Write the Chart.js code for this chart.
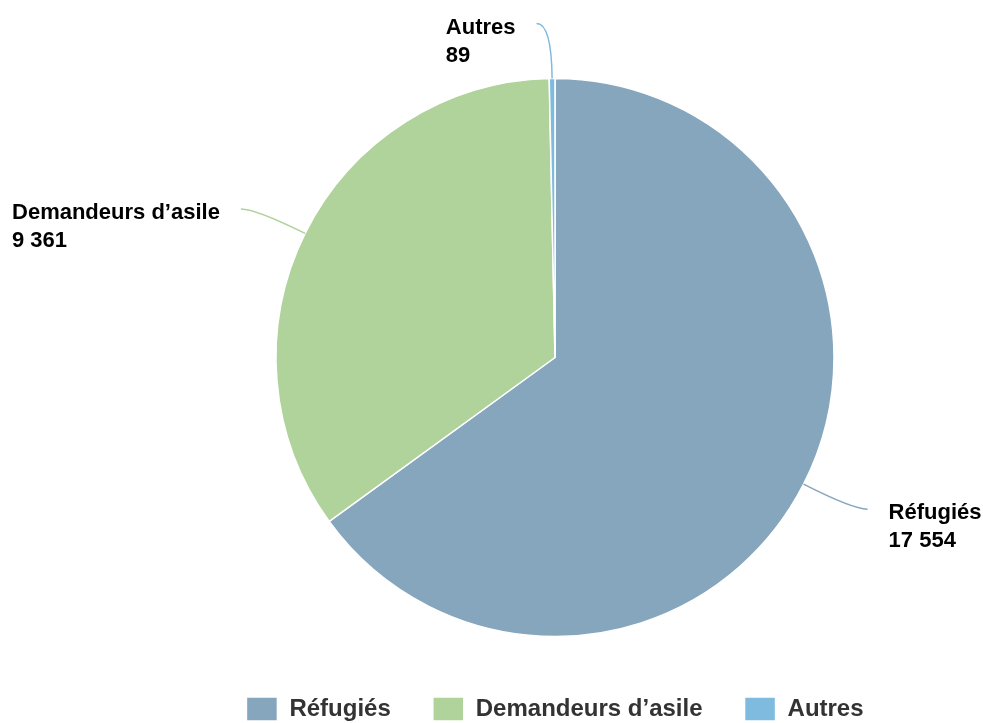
<!DOCTYPE html>
<html>
<head>
<meta charset="utf-8">
<script src="https://cdn.jsdelivr.net/npm/chart.js@4.4.0/dist/chart.umd.min.js"></script>
<style>
  html, body { margin: 0; padding: 0; background: #fff; }
  #box { width: 983px; height: 723px; }
</style>
</head>
<body>
<div id="box"><canvas id="grafico"></canvas></div>
<script>
// données
const categories = ['Réfugiés', 'Demandeurs d’asile', 'Autres'];
const valeurs = [17554, 9361, 89];
const couleurs = ['#85a6bd', '#b0d29b', '#7fbadf'];

function formatNombre(n) { // séparateur de milliers en espace
  return n.toString().replace(/\B(?=(\d{3})+(?!\d))/g, ' ');
}

// étiquettes + connecteurs courbes
const etiquettesPlugin = {
  id: 'etiquettes',
  afterDatasetsDraw(chart) {
    const ctx = chart.ctx;
    const meta = chart.getDatasetMeta(0);
    ctx.save();
    ctx.font = 'bold 22px "Liberation Sans", Arial, sans-serif';
    ctx.textBaseline = 'middle';
    ctx.textAlign = 'left';
    meta.data.forEach((arc, i) => {
      const p = arc.getProps(['x', 'y', 'startAngle', 'endAngle', 'outerRadius'], true);
      const mid = (p.startAngle + p.endAngle) / 2;
      const cos = Math.cos(mid), sin = Math.sin(mid);
      const dir = cos >= 0 ? 1 : -1;
      const sx = p.x + p.outerRadius * cos, sy = p.y + p.outerRadius * sin;
      const bx = p.x + (p.outerRadius + 55) * cos;
      const by = Math.max(p.y + (p.outerRadius + 55) * sin, 17);
      const ex = bx + dir * 15, ey = by;

      ctx.strokeStyle = couleurs[i];
      ctx.lineWidth = 1.5;
      ctx.beginPath();
      ctx.moveTo(sx, sy);
      ctx.quadraticCurveTo(bx, by, ex, ey);
      ctx.stroke();

      // bloc de texte aligné à gauche, placé du bon côté du connecteur
      const l1 = categories[i], l2 = formatNombre(valeurs[i]);
      const larg = Math.max(ctx.measureText(l1).width, ctx.measureText(l2).width);
      const tx = dir > 0 ? ex + 21 : ex - 21 - larg;
      ctx.fillStyle = '#000';
      ctx.fillText(l1, tx, ey + 4);
      ctx.fillText(l2, tx, ey + 32);
    });
    ctx.restore();
  }
};

const grafico = new Chart(document.getElementById('grafico'), {
  type: 'pie',
  data: {
    labels: categories,
    datasets: [{
      data: valeurs,
      backgroundColor: couleurs,
      borderColor: '#ffffff',
      borderWidth: 1.5
    }]
  },
  options: {
    responsive: true,
    maintainAspectRatio: false,
    animation: false,
    radius: 279,
    layout: { padding: { top: 60, left: 127, right: 0, bottom: -8 } },
    plugins: {
      tooltip: { enabled: false },
      legend: {
        position: 'bottom',
        labels: {
          boxWidth: 31,
          boxHeight: 24,
          padding: 42,
          color: '#333333',
          font: { family: '"Liberation Sans", Arial, sans-serif', size: 24, weight: 'bold', lineHeight: 1 }
        }
      }
    }
  },
  plugins: [etiquettesPlugin]
});
</script>
</body>
</html>
